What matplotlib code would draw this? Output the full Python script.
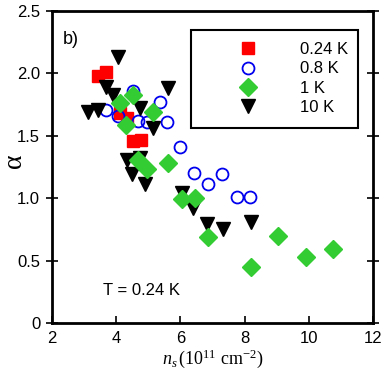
import matplotlib
matplotlib.use("Agg")
import matplotlib.pyplot as plt
from matplotlib.patches import Rectangle

plt.rcParams['font.family'] = ['Liberation Sans', 'DejaVu Sans']
plt.rcParams['mathtext.fontset'] = 'custom'
plt.rcParams['mathtext.rm'] = 'Liberation Serif'
plt.rcParams['mathtext.it'] = 'Liberation Serif:italic'

# 0.24 K
x_024 = [3.43, 3.67, 4.12, 4.34, 4.52, 4.77]
y_024 = [1.98, 2.01, 1.68, 1.64, 1.46, 1.47]
# 0.8 K
x_08 = [3.68, 4.06, 4.52, 4.68, 4.96, 5.36, 5.58, 5.99, 6.42, 6.86, 7.30, 7.76, 8.17]
y_08 = [1.71, 1.66, 1.86, 1.62, 1.61, 1.77, 1.61, 1.41, 1.20, 1.11, 1.19, 1.01, 1.01]
# 1 K
x_1 = [4.12, 4.52, 4.31, 5.15, 4.68, 4.96, 5.61, 6.05, 6.45, 6.86, 8.20, 9.04, 9.91, 10.75]
y_1 = [1.76, 1.83, 1.59, 1.69, 1.31, 1.23, 1.28, 0.99, 1.00, 0.69, 0.45, 0.70, 0.53, 0.59]
# 10 K
x_10 = [4.06, 3.68, 3.90, 3.12, 3.43, 4.74, 5.61, 5.15, 4.34, 4.74, 4.49, 4.90, 6.05, 6.39, 6.83, 7.33, 8.20]
y_10 = [2.13, 1.89, 1.83, 1.69, 1.71, 1.72, 1.88, 1.56, 1.31, 1.32, 1.19, 1.11, 1.04, 0.92, 0.79, 0.75, 0.81]

labels = ['0.24 K', '0.8 K', '1 K', '10 K']
xticks = [2, 4, 6, 8, 10, 12]
yticks = [0, 0.5, 1.0, 1.5, 2.0, 2.5]
ytick_labels = ['0', '0.5', '1.0', '1.5', '2.0', '2.5']

fig = plt.figure(figsize=(3.87, 3.81), dpi=100)
ax = fig.add_axes([52/387, 1-323/381, 321/387, 312/381])

h1, = ax.plot(x_024, y_024, 's', color='#ff0000', ms=8.6, mec='#ff0000', ls='none', zorder=3)
h2, = ax.plot(x_08, y_08, 'o', mfc='none', mec='#0000ee', mew=1.3, ms=8.6, ls='none', zorder=3)
h3, = ax.plot(x_1, y_1, 'D', color='#33cc33', ms=8.8, ls='none', zorder=4)
h4, = ax.plot(x_10, y_10, 'v', color='black', ms=9.5, ls='none', zorder=3)

ax.set_xlim(2, 12)
ax.set_ylim(0, 2.5)
ax.set_xticks(xticks)
ax.set_yticks(yticks)
ax.set_yticklabels(ytick_labels)
for s in ax.spines.values():
    s.set_linewidth(2)
ax.tick_params(axis='both', labelsize=12, width=1.2, length=5)
ax.tick_params(axis='x', direction='in', pad=6)
ax.tick_params(axis='y', direction='inout', length=9, pad=4, right=True)

ax.set_xlabel(r'$n_s\,(10^{11}\ \mathrm{cm}^{-2})$', fontsize=13, labelpad=1)
ax.set_ylabel('α', family='Liberation Serif', fontsize=20, va='center')
ax.yaxis.set_label_coords(-0.118, 0.52)

ax.text(0.035, 0.91, 'b)', transform=ax.transAxes, fontsize=13, va='center', ha='left')
ax.text(4.8, 0.26, 'T = 0.24 K', fontsize=12, ha='center', va='center')

ax.add_patch(Rectangle((0.433, 0.625), 0.52, 0.314, transform=ax.transAxes,
                       fill=False, lw=1.5, ec='black', zorder=5))
leg = ax.legend([h1, h2, h3, h4], labels, loc='upper left', bbox_to_anchor=(0.586, 0.90),
                frameon=False, fontsize=12, handlelength=1.0, handletextpad=2.6,
                labelspacing=0.25, borderpad=0, borderaxespad=0)

fig.savefig('out.png', dpi=100)
